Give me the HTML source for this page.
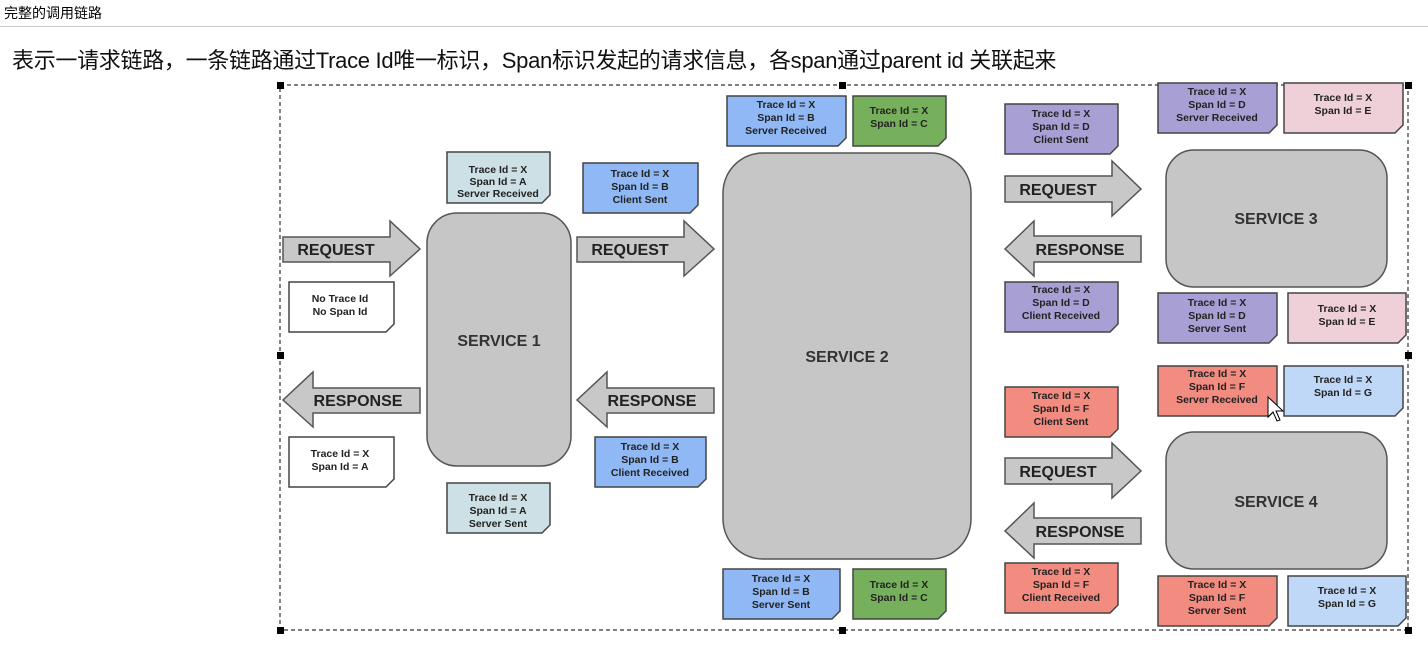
<!DOCTYPE html>
<html><head><meta charset="utf-8"><style>
html,body{margin:0;padding:0;background:#fff;width:1428px;height:650px;overflow:hidden}
.hd{position:absolute;left:4px;top:3px;font:14px "Liberation Sans","Noto Sans CJK SC",sans-serif;color:#000}
.ln{position:absolute;left:0;top:26px;width:1428px;height:1px;background:#ccc}
.sub{position:absolute;left:12px;top:43px;font:22px "Liberation Sans","Noto Sans CJK SC",sans-serif;color:#111;letter-spacing:-0.3px}
svg{position:absolute;left:0;top:0}
.n{font:bold 10.5px "Liberation Sans",sans-serif;fill:#222;text-anchor:middle}
.a{font:bold 16px "Liberation Sans",sans-serif;fill:#222;text-anchor:middle}
.s{font:bold 16px "Liberation Sans",sans-serif;fill:#333;text-anchor:middle}
</style></head><body>
<div class="hd">完整的调用链路</div>
<div class="ln"></div>
<div class="sub">表示一请求链路，一条链路通过Trace Id唯一标识，Span标识发起的请求信息，各span通过parent id 关联起来</div>
<svg width="1428" height="650" viewBox="0 0 1428 650">
<rect x="280" y="85" width="1128" height="545" fill="none" stroke="#333" stroke-dasharray="4,3" stroke-width="1.2"/>
<g fill="#000">
<rect x="277" y="82" width="7" height="7"/><rect x="839" y="82" width="7" height="7"/><rect x="1405" y="82" width="7" height="7"/>
<rect x="277" y="352" width="7" height="7"/><rect x="1405" y="352" width="7" height="7"/>
<rect x="277" y="627" width="7" height="7"/><rect x="839" y="627" width="7" height="7"/><rect x="1405" y="627" width="7" height="7"/>
</g>
<g fill="#c6c6c6" stroke="#555" stroke-width="1.5">
<rect x="427" y="213" width="144" height="253" rx="30"/>
<rect x="723" y="153" width="248" height="406" rx="40"/>
<rect x="1166" y="150" width="221" height="137" rx="28"/>
<rect x="1166" y="432" width="221" height="137" rx="28"/>
</g>
<g class="s"><text x="499" y="346">SERVICE 1</text><text x="847" y="362">SERVICE 2</text><text x="1276" y="224">SERVICE 3</text><text x="1276" y="507">SERVICE 4</text></g>
<g fill="#c8c8c8" stroke="#555" stroke-width="1.5">
<polygon points="283,237 390,237 390,221 420,249 390,276 390,262 283,262"/>
<polygon points="577,237 684,237 684,221 714,249 684,276 684,262 577,262"/>
<polygon points="420,388 313,388 313,372 283,400 313,427 313,413 420,413"/>
<polygon points="714,388 607,388 607,372 577,400 607,427 607,413 714,413"/>
<polygon points="1005,176 1112,176 1112,161 1141,189 1112,216 1112,202 1005,202"/>
<polygon points="1141,236 1034,236 1034,221 1005,249 1034,276 1034,262 1141,262"/>
<polygon points="1005,458 1112,458 1112,443 1141,471 1112,498 1112,484 1005,484"/>
<polygon points="1141,518 1034,518 1034,503 1005,531 1034,558 1034,544 1141,544"/>
</g>
<g class="a">
<text x="336" y="255">REQUEST</text><text x="630" y="255">REQUEST</text>
<text x="358" y="406">RESPONSE</text><text x="652" y="406">RESPONSE</text>
<text x="1058" y="195">REQUEST</text><text x="1080" y="255">RESPONSE</text>
<text x="1058" y="477">REQUEST</text><text x="1080" y="537">RESPONSE</text>
</g>
<g stroke="#444" stroke-width="1.5">
<polygon fill="#cde0e6" points="447,152 550,152 550,195 542,203 447,203"/>
<polygon fill="#fff" points="289,282 394,282 394,324 386,332 289,332"/>
<polygon fill="#fff" points="289,437 394,437 394,479 386,487 289,487"/>
<polygon fill="#cde0e6" points="447,483 550,483 550,525 542,533 447,533"/>
<polygon fill="#8fb8f5" points="583,163 698,163 698,205 690,213 583,213"/>
<polygon fill="#8fb8f5" points="595,437 706,437 706,479 698,487 595,487"/>
<polygon fill="#8fb8f5" points="727,96 846,96 846,138 838,146 727,146"/>
<polygon fill="#77b05c" points="853,96 946,96 946,138 938,146 853,146"/>
<polygon fill="#8fb8f5" points="723,569 840,569 840,611 832,619 723,619"/>
<polygon fill="#77b05c" points="853,569 946,569 946,611 938,619 853,619"/>
<polygon fill="#a89fd4" points="1005,104 1118,104 1118,146 1110,154 1005,154"/>
<polygon fill="#a89fd4" points="1158,83 1277,83 1277,125 1269,133 1158,133"/>
<polygon fill="#f0d0d8" points="1284,83 1403,83 1403,125 1395,133 1284,133"/>
<polygon fill="#a89fd4" points="1005,282 1118,282 1118,324 1110,332 1005,332"/>
<polygon fill="#a89fd4" points="1158,293 1277,293 1277,335 1269,343 1158,343"/>
<polygon fill="#f0d0d8" points="1288,293 1406,293 1406,335 1398,343 1288,343"/>
<polygon fill="#f28b80" points="1158,366 1277,366 1277,408 1269,416 1158,416"/>
<polygon fill="#c0d8f8" points="1284,366 1403,366 1403,408 1395,416 1284,416"/>
<polygon fill="#f28b80" points="1005,387 1118,387 1118,429 1110,437 1005,437"/>
<polygon fill="#f28b80" points="1005,563 1118,563 1118,605 1110,613 1005,613"/>
<polygon fill="#f28b80" points="1158,576 1277,576 1277,618 1269,626 1158,626"/>
<polygon fill="#c0d8f8" points="1288,576 1406,576 1406,618 1398,626 1288,626"/>
</g>
<g class="n">
<text x="498" y="173">Trace Id = X</text><text x="498" y="185">Span Id = A</text><text x="498" y="197">Server Received</text>
<text x="340" y="302">No Trace Id</text><text x="340" y="315">No Span Id</text>
<text x="340" y="457">Trace Id = X</text><text x="340" y="470">Span Id = A</text>
<text x="498" y="501">Trace Id = X</text><text x="498" y="514">Span Id = A</text><text x="498" y="527">Server Sent</text>
<text x="640" y="177">Trace Id = X</text><text x="640" y="190">Span Id = B</text><text x="640" y="203">Client Sent</text>
<text x="650" y="450">Trace Id = X</text><text x="650" y="463">Span Id = B</text><text x="650" y="476">Client Received</text>
<text x="786" y="108">Trace Id = X</text><text x="786" y="121">Span Id = B</text><text x="786" y="134">Server Received</text>
<text x="899" y="114">Trace Id = X</text><text x="899" y="127">Span Id = C</text>
<text x="781" y="582">Trace Id = X</text><text x="781" y="595">Span Id = B</text><text x="781" y="608">Server Sent</text>
<text x="899" y="588">Trace Id = X</text><text x="899" y="601">Span Id = C</text>
<text x="1061" y="117">Trace Id = X</text><text x="1061" y="130">Span Id = D</text><text x="1061" y="143">Client Sent</text>
<text x="1217" y="95">Trace Id = X</text><text x="1217" y="108">Span Id = D</text><text x="1217" y="121">Server Received</text>
<text x="1343" y="101">Trace Id = X</text><text x="1343" y="114">Span Id = E</text>
<text x="1061" y="293">Trace Id = X</text><text x="1061" y="306">Span Id = D</text><text x="1061" y="319">Client Received</text>
<text x="1217" y="306">Trace Id = X</text><text x="1217" y="319">Span Id = D</text><text x="1217" y="332">Server Sent</text>
<text x="1347" y="312">Trace Id = X</text><text x="1347" y="325">Span Id = E</text>
<text x="1217" y="377">Trace Id = X</text><text x="1217" y="390">Span Id = F</text><text x="1217" y="403">Server Received</text>
<text x="1343" y="383">Trace Id = X</text><text x="1343" y="396">Span Id = G</text>
<text x="1061" y="399">Trace Id = X</text><text x="1061" y="412">Span Id = F</text><text x="1061" y="425">Client Sent</text>
<text x="1061" y="575">Trace Id = X</text><text x="1061" y="588">Span Id = F</text><text x="1061" y="601">Client Received</text>
<text x="1217" y="588">Trace Id = X</text><text x="1217" y="601">Span Id = F</text><text x="1217" y="614">Server Sent</text>
<text x="1347" y="594">Trace Id = X</text><text x="1347" y="607">Span Id = G</text>
</g>
<polygon points="1268,397 1268,417 1273,412 1277,421 1280,420 1276,411 1283,411" fill="#fff" stroke="#000" stroke-width="1"/>
</svg>
</body></html>
